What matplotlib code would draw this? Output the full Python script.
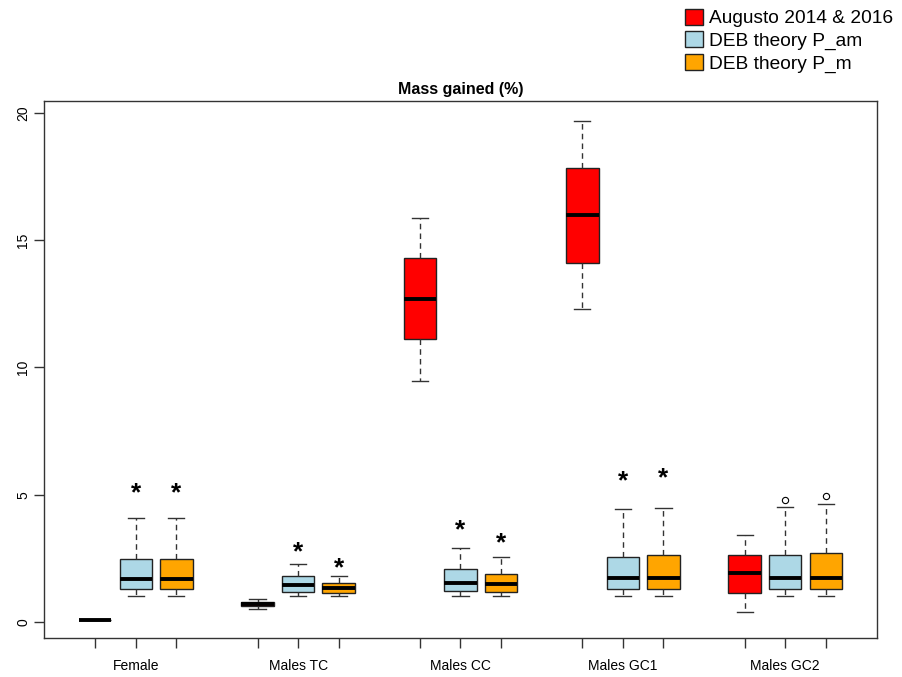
import matplotlib
matplotlib.use("Agg")
import matplotlib.pyplot as plt
from matplotlib.patches import Patch

plt.rcParams['font.family'] = ['Liberation Sans', 'DejaVu Sans']

groups = ["Female", "Males TC", "Males CC", "Males GC1", "Males GC2"]
series = ["Augusto 2014 & 2016", "DEB theory P_am", "DEB theory P_m"]
colors = ["#FF0000", "#ADD8E6", "#FFA500"]

# five-number summaries per group (whisker low, Q1, median, Q3, whisker high)
aug_low  = [0.08, 0.50, 9.47, 12.30, 0.39]
aug_q1   = [0.08, 0.64, 11.11, 14.12, 1.15]
aug_med  = [0.08, 0.71, 12.70, 15.98, 1.91]
aug_q3   = [0.08, 0.78, 14.29, 17.84, 2.65]
aug_high = [0.08, 0.90, 15.89, 19.70, 3.41]

pam_low  = [1.02, 1.02, 1.02, 1.02, 1.02]
pam_q1   = [1.28, 1.19, 1.23, 1.28, 1.28]
pam_med  = [1.69, 1.47, 1.55, 1.72, 1.72]
pam_q3   = [2.48, 1.81, 2.07, 2.57, 2.65]
pam_high = [4.07, 2.29, 2.92, 4.43, 4.52]
pam_out  = [[], [], [], [], [4.78]]

pm_low  = [1.02, 1.02, 1.02, 1.02, 1.02]
pm_q1   = [1.28, 1.15, 1.19, 1.28, 1.28]
pm_med  = [1.69, 1.34, 1.49, 1.72, 1.72]
pm_q3   = [2.48, 1.55, 1.90, 2.62, 2.70]
pm_high = [4.07, 1.81, 2.57, 4.48, 4.65]
pm_out  = [[], [], [], [], [4.96]]

# significance stars (y position), None = no star
pam_star = [5.19, 2.90, 3.74, 5.67, None]
pm_star  = [5.19, 2.27, 3.26, 5.78, None]

yticks = [0, 5, 10, 15, 20]

fig = plt.figure(figsize=(9.03, 6.77), dpi=100)
ax = fig.add_axes([44/903, 1-638/677, (877-44)/903, (638-101)/677])

def make_stats(lo, q1, med, q3, hi, out):
    return [dict(whislo=lo[i], q1=q1[i], med=med[i], q3=q3[i], whishi=hi[i], fliers=out[i])
            for i in range(len(lo))]

all_stats = [
    make_stats(aug_low, aug_q1, aug_med, aug_q3, aug_high, [[]]*5),
    make_stats(pam_low, pam_q1, pam_med, pam_q3, pam_high, pam_out),
    make_stats(pm_low, pm_q1, pm_med, pm_q3, pm_high, pm_out),
]

for s, stats in enumerate(all_stats):
    pos = [4*g + s + 1 for g in range(len(groups))]
    ax.bxp(stats, positions=pos, widths=0.8, patch_artist=True, showfliers=True,
           boxprops=dict(facecolor=colors[s], edgecolor='#222222', linewidth=1.0),
           medianprops=dict(color='black', linewidth=2.8, solid_capstyle='butt'),
           whiskerprops=dict(color='#333333', linewidth=1.0, linestyle=(0, (4, 3))),
           capprops=dict(color='#333333', linewidth=1.0),
           capwidths=0.4,
           flierprops=dict(marker='o', markersize=4.5, markerfacecolor='none',
                           markeredgecolor='black', markeredgewidth=0.8))

for s, stars in ((1, pam_star), (2, pm_star)):
    for g, y in enumerate(stars):
        if y is not None:
            ax.text(4*g + s + 1, y - 0.15, "*", ha='center', va='center', fontsize=19,
                    fontweight='bold', color='black')

ax.set_xlim(-0.26, 20.26)
ax.set_ylim(-0.63, 20.47)
allpos = [4*g + s + 1 for g in range(len(groups)) for s in range(3)]
ax.set_xticks(allpos)
ax.set_xticklabels([groups[p // 4] if p % 4 == 2 else "" for p in allpos], fontsize=10)
ax.set_yticks(yticks)
ax.set_yticklabels([str(v) for v in yticks], rotation=90, va='center', fontsize=10)
ax.tick_params(axis='both', direction='out', length=7, width=1.0, color='#333333')
ax.tick_params(axis='x', pad=8)
ax.tick_params(axis='y', pad=3)
for sp in ax.spines.values():
    sp.set_linewidth(1.0)
    sp.set_color('#333333')

ax.set_title("Mass gained (%)", fontsize=11.5, fontweight='bold', pad=5)

handles = [Patch(facecolor=c, edgecolor='#222222', linewidth=1.0) for c in colors]
fig.legend(handles, series, loc='upper left', bbox_to_anchor=(681/903, 1 - 5/677),
           frameon=False, fontsize=13.8, handlelength=0.95, handleheight=0.9,
           handletextpad=0.3, labelspacing=0.2, borderpad=0.2, borderaxespad=0)

fig.savefig("out.png", dpi=100)
